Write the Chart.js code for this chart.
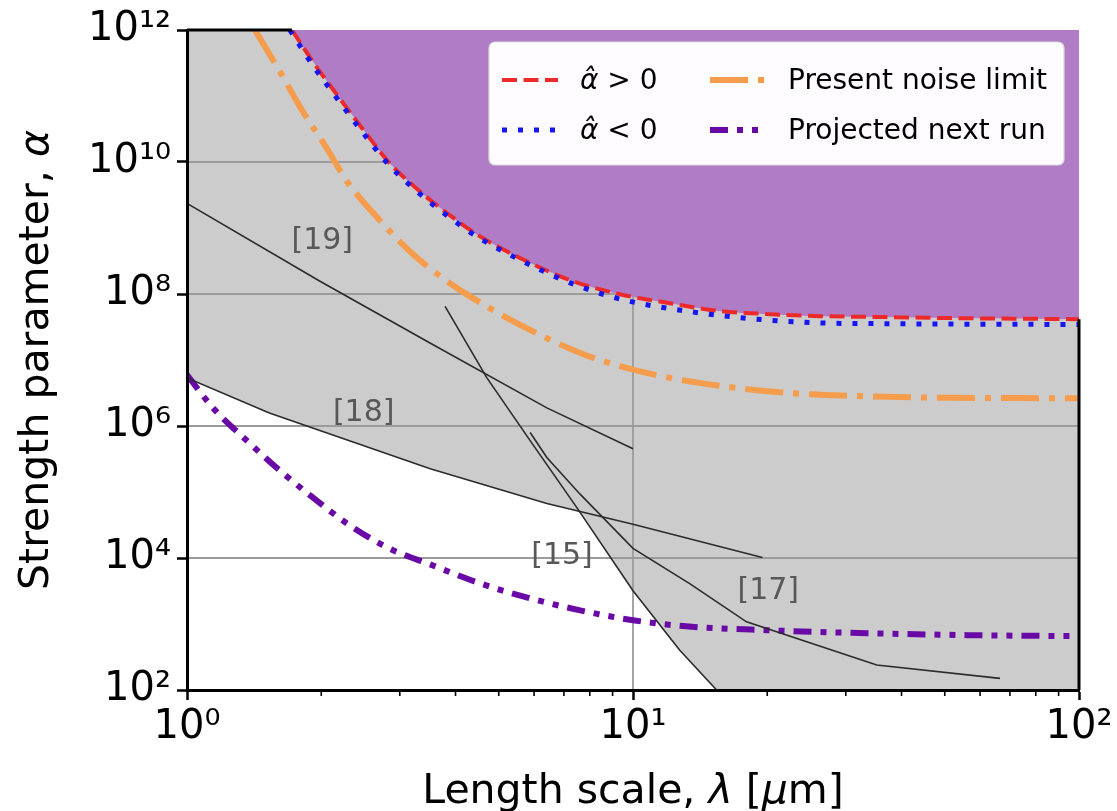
<!DOCTYPE html>
<html>
<head>
<meta charset="utf-8">
<title>Yukawa strength limits</title>
<script src="https://cdn.jsdelivr.net/npm/chart.js@4.4.1/dist/chart.umd.min.js"></script>
<style>
  html, body { margin: 0; padding: 0; background: #ffffff; }
  canvas { display: block; }
</style>
</head>
<body>
<canvas id="chart" width="1117" height="811"></canvas>
<script>
// Axis tick positions
const lambdaTicks = [1, 2, 3, 4, 5, 6, 7, 8, 9, 10, 20, 30, 40, 50, 60, 70, 80, 90, 100];
const alphaTicks = [1e2, 1e4, 1e6, 1e8, 1e10, 1e12];

// Fitted limit, alpha-hat > 0
const posLambda = [1.719, 1.917, 2.203, 2.533, 2.851, 3.330, 3.888, 4.54, 5.97, 7.34, 9.35, 12.1, 15.7, 20.3, 26.3, 37.1, 52.2, 100];
const posAlpha  = [1e12, 3.29e11, 9.07e10, 2.6e10, 9.5e9, 3.57e9, 1.55e9, 7.46e8, 2.82e8, 1.56e8, 9.93e7, 7.26e7, 5.5e7, 4.95e7, 4.62e7, 4.47e7, 4.31e7, 4.16e7];

// Fitted limit, alpha-hat < 0
const negLambda = [1.70, 1.897, 2.18, 2.51, 2.83, 3.30, 3.85, 4.50, 5.92, 7.28, 9.35, 13.2, 18.6, 26.3, 37.1, 52.2, 100];
const negAlpha  = [1e12, 3.2e11, 8.8e10, 2.5e10, 9.2e9, 3.45e9, 1.5e9, 7.2e8, 2.7e8, 1.45e8, 8.4e7, 5.5e7, 4.2e7, 3.65e7, 3.55e7, 3.5e7, 3.45e7];

// Present noise limit
const noiseLambda = [1.42, 1.617, 1.82, 2.06, 2.285, 2.708, 3.212, 3.83, 4.31, 5.38, 7.61, 9.35, 12.1, 15.7, 22.1, 31.1, 52.2, 100];
const noiseAlpha  = [1e12, 2.32e11, 5.77e10, 1.59e10, 5.06e9, 1.3e9, 3.99e8, 1.56e8, 9.2e7, 3.88e7, 1.28e7, 8.1e6, 5.35e6, 4.05e6, 3.18e6, 2.86e6, 2.67e6, 2.64e6];

// Projected next run
const nextLambda = [1, 1.144, 1.363, 1.617, 1.917, 2.285, 2.808, 3.507, 4.54, 5.875, 7.61, 10, 12.95, 19.97, 33.5, 56.1, 100];
const nextAlpha  = [5.93e6, 1.88e6, 5.97e5, 2.1e5, 8.2e4, 3.33e4, 1.45e4, 8.0e3, 4.13e3, 2.45e3, 1.61e3, 1.14e3, 930, 805, 726, 678, 655];

// Published constraints
const ref19Lambda = [1, 1.987, 3.506, 6.41, 10];
const ref19Alpha  = [2.36e9, 1.56e8, 1.81e7, 1.88e6, 4.53e5];
const ref18Lambda = [1, 1.53, 3.51, 6.41, 10, 19.5];
const ref18Alpha  = [5.35e6, 1.58e6, 2.25e5, 6.7e4, 3.25e4, 1.02e4];
const ref15Lambda = [3.79, 4.70, 5.88, 7.47, 10, 12.73, 15.4];
const ref15Alpha  = [6.5e7, 5.4e6, 6.0e5, 5.9e4, 3.2e3, 4.0e2, 1e2];
const ref17Lambda = [5.88, 6.41, 7.60, 10, 13.4, 17.97, 35.2, 66.5];
const ref17Alpha  = [7.98e5, 3.34e5, 9.35e4, 1.4e4, 4.09e3, 1.08e3, 239, 150];

// Reference tags and where they sit (data coordinates)
const refTags = ['[19]', '[18]', '[15]', '[17]'];
const refTagLambda = [2.01, 2.49, 6.93, 20.1];
const refTagAlpha  = [6.3e8, 1.58e6, 1.06e4, 3.13e3];

const SUP = { '0': '⁰', '1': '¹', '2': '²', '3': '³', '4': '⁴', '5': '⁵', '6': '⁶', '7': '⁷', '8': '⁸', '9': '⁹' };
const isDecade = v => Math.abs(Math.log10(v) - Math.round(Math.log10(v))) < 1e-9;
const decadeLabel = v => '10' + String(Math.round(Math.log10(v))).split('').map(c => SUP[c]).join('');
const pts = (xs, ys) => xs.map((x, i) => ({ x: x, y: ys[i] }));

// First crossing of two polylines in log-log space
function firstCrossing(ax, ay, bx, by) {
  const L = Math.log10;
  for (let i = 0; i < ax.length - 1; i++) {
    const p = [L(ax[i]), L(ay[i])];
    const r = [L(ax[i + 1]) - p[0], L(ay[i + 1]) - p[1]];
    for (let j = 0; j < bx.length - 1; j++) {
      const q = [L(bx[j]), L(by[j])];
      const s = [L(bx[j + 1]) - q[0], L(by[j + 1]) - q[1]];
      const den = r[0] * s[1] - r[1] * s[0];
      if (Math.abs(den) < 1e-12) continue;
      const qp = [q[0] - p[0], q[1] - p[1]];
      const t = (qp[0] * s[1] - qp[1] * s[0]) / den;
      const u = (qp[0] * r[1] - qp[1] * r[0]) / den;
      if (t >= 0 && t <= 1 && u >= 0 && u <= 1) {
        return { i: i, j: j, x: Math.pow(10, p[0] + t * r[0]), y: Math.pow(10, p[1] + t * r[1]) };
      }
    }
  }
  return null;
}

// Lower edge of the excluded (grey) region: [18] until it meets [15], then [15] down to the axis
const cut = firstCrossing(ref18Lambda, ref18Alpha, ref15Lambda, ref15Alpha);
const excludedEdge = [
  ...pts(ref18Lambda.slice(0, cut.i + 1), ref18Alpha.slice(0, cut.i + 1)),
  { x: cut.x, y: cut.y },
  ...pts(ref15Lambda.slice(cut.j + 1), ref15Alpha.slice(cut.j + 1)),
  { x: lambdaTicks[lambdaTicks.length - 1], y: alphaTicks[0] }
];

const FONT = 'DejaVu Sans';
const GRID = '#9b9b9b';

function drawParts(ctx, parts, x, y, size, align) {
  const fonts = parts.map(p => (p[1] ? 'italic ' : '') + size + 'px "' + FONT + '"');
  const widths = parts.map((p, i) => { ctx.font = fonts[i]; return ctx.measureText(p[0]).width; });
  const total = widths.reduce((a, b) => a + b, 0);
  let cx = align === 'center' ? x - total / 2 : x;
  ctx.textAlign = 'left';
  parts.forEach((p, i) => { ctx.font = fonts[i]; ctx.fillText(p[0], cx, y); cx += widths[i]; });
}

const legendItems = [
  { ds: 1, col: 0, row: 0, parts: [['α̂', true], [' > 0', false]] },
  { ds: 2, col: 0, row: 1, parts: [['α̂', true], [' < 0', false]] },
  { ds: 3, col: 1, row: 0, parts: [['Present noise limit', false]] },
  { ds: 4, col: 1, row: 1, parts: [['Projected next run', false]] }
];

const decor = {
  id: 'decor',
  afterDatasetDraw(chart, args) {
    if (args.index !== 0) return;
    // grid lines sit above the grey region and below the purple one
    const { ctx, chartArea: a, scales: { x, y } } = chart;
    ctx.save();
    ctx.beginPath(); ctx.rect(a.left, a.top, a.width, a.height); ctx.clip();
    ctx.strokeStyle = GRID; ctx.lineWidth = 1.8;
    y.ticks.forEach(t => {
      if (t.value <= y.min || t.value >= y.max) return;
      const py = y.getPixelForValue(t.value);
      ctx.beginPath(); ctx.moveTo(a.left, py); ctx.lineTo(a.right, py); ctx.stroke();
    });
    x.ticks.forEach(t => {
      if (!t.major || t.value <= x.min || t.value >= x.max) return;
      const px = x.getPixelForValue(t.value);
      ctx.beginPath(); ctx.moveTo(px, a.top); ctx.lineTo(px, a.bottom); ctx.stroke();
    });
    ctx.restore();
  },
  afterDraw(chart) {
    const { ctx, chartArea: a, scales: { x, y } } = chart;
    const ds = chart.data.datasets;
    ctx.save();

    // minor ticks along the length axis
    ctx.strokeStyle = '#000'; ctx.lineWidth = 1.6;
    x.ticks.forEach(t => {
      if (t.major) return;
      const px = x.getPixelForValue(t.value);
      ctx.beginPath(); ctx.moveTo(px, a.bottom); ctx.lineTo(px, a.bottom + 6); ctx.stroke();
    });

    // top and right spines, visible only outside the purple region
    const red = ds[1].data;
    ctx.lineWidth = 3;
    ctx.beginPath();
    ctx.moveTo(a.left, a.top); ctx.lineTo(x.getPixelForValue(red[0].x), a.top);
    ctx.moveTo(a.right, y.getPixelForValue(red[red.length - 1].y)); ctx.lineTo(a.right, a.bottom);
    ctx.stroke();

    // reference tags
    ctx.fillStyle = '#585858';
    ctx.textBaseline = 'middle';
    ctx.textAlign = 'center';
    ctx.font = '30px "' + FONT + '"';
    refTags.forEach((tag, i) => {
      ctx.fillText(tag, x.getPixelForValue(refTagLambda[i]), y.getPixelForValue(refTagAlpha[i]));
    });

    // axis titles
    ctx.fillStyle = '#000';
    ctx.textBaseline = 'alphabetic';
    drawParts(ctx, [['Length scale, ', false], ['λ', true], [' [', false], ['μ', true], ['m]', false]],
      (a.left + a.right) / 2, 803, 41, 'center');
    ctx.save();
    ctx.translate(48, (a.top + a.bottom) / 2);
    ctx.rotate(-Math.PI / 2);
    drawParts(ctx, [['Strength parameter, ', false], ['α', true]], 0, 0, 41, 'center');
    ctx.restore();

    // legend
    const bx = 489, by = 42, bw = 575, bh = 123;
    ctx.fillStyle = 'rgba(255,255,255,0.98)';
    ctx.strokeStyle = '#dcdcdc'; ctx.lineWidth = 1.2;
    ctx.beginPath(); ctx.roundRect(bx, by, bw, bh, 6); ctx.fill(); ctx.stroke();
    const colX = [502, 710], rowY = [80, 130], handle = 56;
    legendItems.forEach(it => {
      const d = ds[it.ds];
      const lx = colX[it.col], ly = rowY[it.row];
      ctx.save();
      ctx.strokeStyle = d.borderColor; ctx.lineWidth = d.borderWidth;
      ctx.setLineDash(d.borderDash || []); ctx.lineCap = 'butt';
      ctx.beginPath(); ctx.moveTo(lx, ly); ctx.lineTo(lx + handle, ly); ctx.stroke();
      ctx.restore();
      ctx.fillStyle = '#000'; ctx.textBaseline = 'alphabetic';
      drawParts(ctx, it.parts, lx + handle + 22, ly + 9, 28, 'left');
    });
    ctx.restore();
  }
};

const thin = (data, order) => ({
  data: data, borderColor: '#2b2b2b', borderWidth: 1.6, pointRadius: 0, tension: 0, fill: false, order: order
});

new Chart(document.getElementById('chart'), {
  type: 'line',
  data: {
    datasets: [
      { data: excludedEdge, borderColor: 'rgba(0,0,0,0)', borderWidth: 1, pointRadius: 0, tension: 0,
        fill: 'end', backgroundColor: '#cccccc', order: 30 },
      { data: pts(posLambda, posAlpha), borderColor: '#ec2a2c', borderWidth: 4, borderDash: [15, 6.5],
        pointRadius: 0, cubicInterpolationMode: 'monotone', fill: 'end', backgroundColor: '#b07cc6', order: 25 },
      { data: pts(negLambda, negAlpha), borderColor: '#1616ee', borderWidth: 5, borderDash: [5, 11],
        pointRadius: 0, cubicInterpolationMode: 'monotone', fill: false, order: 24 },
      { data: pts(noiseLambda, noiseAlpha), borderColor: '#f59d4d', borderWidth: 6, borderDash: [38, 10, 6, 10],
        pointRadius: 0, cubicInterpolationMode: 'monotone', fill: false, order: 23 },
      { data: pts(nextLambda, nextAlpha), borderColor: '#6a0aa6', borderWidth: 6, borderDash: [18, 9, 6, 9, 6, 9],
        pointRadius: 0, cubicInterpolationMode: 'monotone', fill: false, order: 22 },
      thin(pts(ref19Lambda, ref19Alpha), 4),
      thin(pts(ref18Lambda, ref18Alpha), 3),
      thin(pts(ref15Lambda, ref15Alpha), 2),
      thin(pts(ref17Lambda, ref17Alpha), 1)
    ]
  },
  options: {
    responsive: false,
    devicePixelRatio: 1,
    animation: false,
    events: [],
    layout: { padding: { top: 28, right: 38, bottom: 0, left: 0 } },
    plugins: { legend: { display: false }, tooltip: { enabled: false }, filler: { drawTime: 'beforeDatasetDraw' } },
    scales: {
      x: {
        type: 'logarithmic', min: 1, max: 100,
        afterBuildTicks: s => { s.ticks = lambdaTicks.map(v => ({ value: v, major: isDecade(v) })); },
        afterFit: s => { s.height = 121; },
        ticks: {
          autoSkip: false, maxRotation: 0, minRotation: 0, padding: 4, color: '#000',
          font: { family: FONT, size: 40 },
          callback: v => isDecade(v) ? decadeLabel(v) : ''
        },
        grid: {
          drawOnChartArea: false, drawTicks: true, tickLength: 10, tickWidth: 2.5,
          tickColor: c => (c.tick && c.tick.major) ? '#000' : 'rgba(0,0,0,0)'
        },
        border: { display: true, color: '#000', width: 3, z: 1 }
      },
      y: {
        type: 'logarithmic', min: 1e2, max: 1e12,
        afterBuildTicks: s => { s.ticks = alphaTicks.map(v => ({ value: v, major: true })); },
        afterFit: s => { s.width = 187; },
        ticks: {
          autoSkip: false, padding: 6, color: '#000',
          font: { family: FONT, size: 40 },
          callback: v => decadeLabel(v)
        },
        grid: { drawOnChartArea: false, drawTicks: true, tickLength: 10, tickWidth: 2.5, tickColor: '#000' },
        border: { display: true, color: '#000', width: 3, z: 1 }
      }
    }
  },
  plugins: [decor]
});
</script>
</body>
</html>
